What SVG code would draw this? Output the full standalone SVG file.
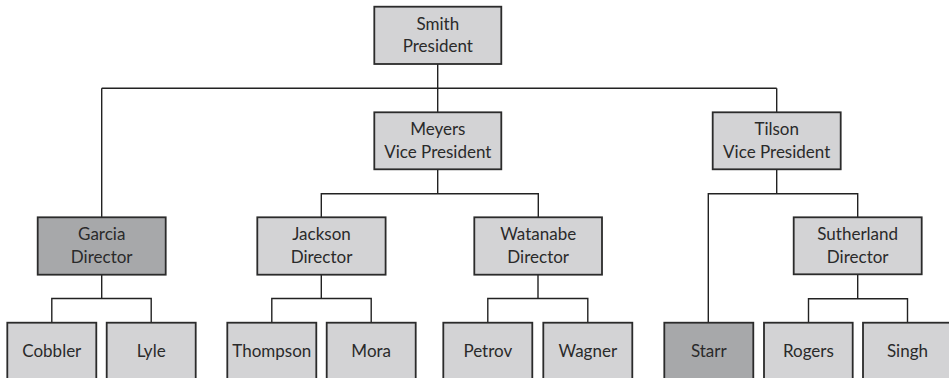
<svg xmlns="http://www.w3.org/2000/svg" width="949" height="378" viewBox="0 0 949 378">
  <style>
    .box { fill: #d3d3d5; stroke: #2b2b2b; stroke-width: 1.8; }
    .box.dark { fill: #a7a8aa; }
    .lbl { font-family: Lato, "Open Sans", "Liberation Sans", sans-serif; font-size: 17px; fill: #2a2a2a; text-anchor: middle; }
    .wire { fill: none; stroke: #222; stroke-width: 1.4; }
  </style>
  <rect width="949" height="378" fill="#ffffff"/>

  <!-- connectors -->
  <g id="connectors" class="wire">
    <path d="M437.7 64 V112"/>
    <path d="M101.7 88.3 H776.7"/>
    <path d="M101.7 88.3 V217.3"/>
    <path d="M776.7 88.3 V112.3"/>
    <!-- Meyers -->
    <path d="M437.7 169.3 V193.7 M321.3 217.3 V193.7 H538.3 V217.3"/>
    <!-- Tilson -->
    <path d="M776.7 169.3 V193.7 M708.3 322.7 V193.7 H857.7 V217.3"/>
    <!-- Garcia -->
    <path d="M101.7 274.7 V298.5 M51.8 322.7 V298.5 H151.2 V322.7"/>
    <!-- Jackson -->
    <path d="M321.3 274.7 V298.5 M271.8 322.7 V298.5 H371.2 V322.7"/>
    <!-- Watanabe -->
    <path d="M538 274.7 V298.5 M487.8 322.7 V298.5 H587.8 V322.7"/>
    <!-- Sutherland -->
    <path d="M857.7 274.3 V298.8 M808.5 322.7 V298.8 H907.5 V322.7"/>
  </g>

  <g id="smith"><rect class="box" x="374.3" y="6.7" width="127" height="57.3"/>
    <text class="lbl" x="437.8" y="30">Smith</text><text class="lbl" x="437.8" y="51.7">President</text></g>
  <g id="meyers"><rect class="box" x="374.3" y="112.3" width="127" height="57"/>
    <text class="lbl" x="437.8" y="135">Meyers</text><text class="lbl" x="437.8" y="157.5">Vice President</text></g>
  <g id="tilson"><rect class="box" x="712.7" y="112.3" width="128" height="57"/>
    <text class="lbl" x="776.7" y="135">Tilson</text><text class="lbl" x="776.7" y="157.5">Vice President</text></g>

  <g id="garcia"><rect class="box dark" x="37.7" y="217.3" width="128" height="57.4"/>
    <text class="lbl" x="101.7" y="240">Garcia</text><text class="lbl" x="101.7" y="262.7">Director</text></g>
  <g id="jackson"><rect class="box" x="257.3" y="217.3" width="128.3" height="57.4"/>
    <text class="lbl" x="321.5" y="240">Jackson</text><text class="lbl" x="321.5" y="262.7">Director</text></g>
  <g id="watanabe"><rect class="box" x="474.3" y="217.3" width="127.7" height="57.4"/>
    <text class="lbl" x="538.2" y="240">Watanabe</text><text class="lbl" x="538.2" y="262.7">Director</text></g>
  <g id="sutherland"><rect class="box" x="793.7" y="217.3" width="128" height="57"/>
    <text class="lbl" x="857.7" y="240">Sutherland</text><text class="lbl" x="857.7" y="262.7">Director</text></g>

  <g id="cobbler"><rect class="box" x="7.3" y="322.7" width="89" height="70"/>
    <text class="lbl" x="51.8" y="356.7">Cobbler</text></g>
  <g id="lyle"><rect class="box" x="106.7" y="322.7" width="89" height="70"/>
    <text class="lbl" x="151.2" y="356.7">Lyle</text></g>
  <g id="thompson"><rect class="box" x="227.3" y="322.7" width="89" height="70"/>
    <text class="lbl" x="271.8" y="356.7">Thompson</text></g>
  <g id="mora"><rect class="box" x="326.7" y="322.7" width="89" height="70"/>
    <text class="lbl" x="371.2" y="356.7">Mora</text></g>
  <g id="petrov"><rect class="box" x="443.3" y="322.7" width="89" height="70"/>
    <text class="lbl" x="487.8" y="356.7">Petrov</text></g>
  <g id="wagner"><rect class="box" x="543.3" y="322.7" width="89" height="70"/>
    <text class="lbl" x="587.8" y="356.7">Wagner</text></g>
  <g id="starr"><rect class="box dark" x="664.3" y="322.7" width="89" height="70"/>
    <text class="lbl" x="708.8" y="356.7">Starr</text></g>
  <g id="rogers"><rect class="box" x="764" y="322.7" width="88.7" height="70"/>
    <text class="lbl" x="808.4" y="356.7">Rogers</text></g>
  <g id="singh"><rect class="box" x="863" y="322.7" width="89" height="70"/>
    <text class="lbl" x="907.5" y="356.7">Singh</text></g>
</svg>
